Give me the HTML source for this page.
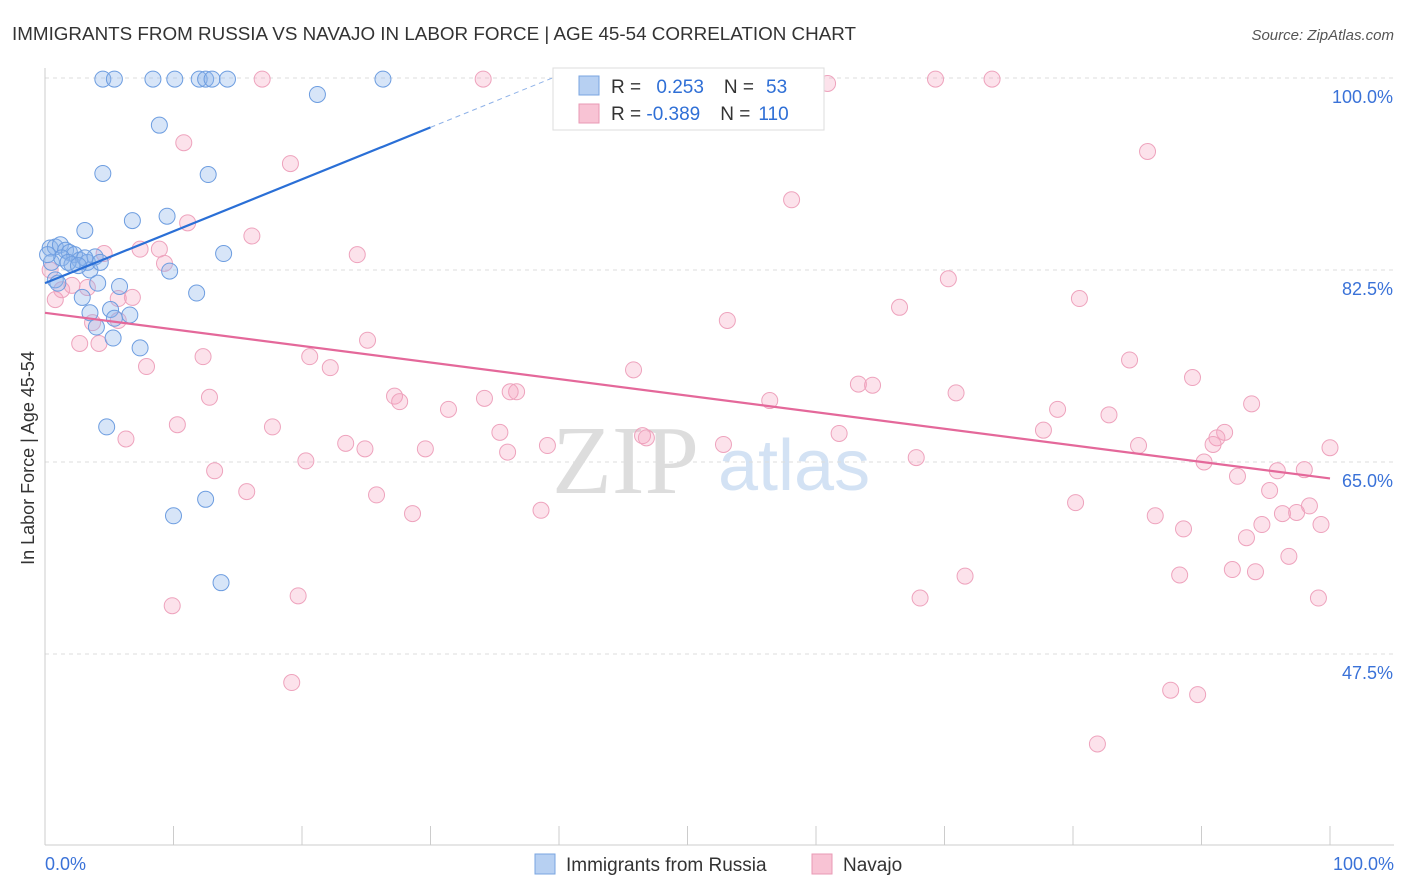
<!DOCTYPE html>
<html><head><meta charset="utf-8"><style>
body{margin:0;background:#fff;font-family:"Liberation Sans",sans-serif;}
svg{display:block}
</style></head><body>
<svg id="chart" width="1406" height="892">
<text x="12" y="40" font-size="18" fill="#333" textLength="844" lengthAdjust="spacingAndGlyphs">IMMIGRANTS FROM RUSSIA VS NAVAJO IN LABOR FORCE | AGE 45-54 CORRELATION CHART</text>
<text x="1394" y="40" font-size="15" fill="#555" text-anchor="end" font-style="italic">Source: ZipAtlas.com</text>
<g>
<text x="552" y="493" font-size="98" fill="#ddd" font-family="Liberation Serif,serif">ZIP</text>
<text x="718" y="490" font-size="72" fill="#d3e2f4">atlas</text>
</g>
<g id="grid"></g>
<g id="axes"></g>
<g id="marks"></g>
<g>
<rect x="553" y="68" width="271" height="62" fill="#fff" stroke="#ddd"/>
<rect x="579" y="76" width="20" height="19" fill="#b7d0f2" stroke="#7aa5e0"/>
<rect x="579" y="104" width="20" height="19" fill="#f8c3d4" stroke="#e99ab4"/>
<text x="611" y="93" font-size="19" fill="#333">R = <tspan fill="#2f6fd6" dx="10">0.253</tspan><tspan dx="20" fill="#333">N =</tspan><tspan dx="12" fill="#2f6fd6">53</tspan></text>
<text x="611" y="120" font-size="19" fill="#333">R = <tspan fill="#2f6fd6" dx="0">-0.389</tspan><tspan dx="20" fill="#333">N =</tspan><tspan dx="8" fill="#2f6fd6">110</tspan></text>
</g>
<g>
<rect x="535" y="854" width="20" height="20" fill="#b7d0f2" stroke="#7aa5e0"/>
<text x="566" y="871" font-size="19" fill="#333">Immigrants from Russia</text>
<rect x="812" y="854" width="20" height="20" fill="#f8c3d4" stroke="#e99ab4"/>
<text x="843" y="871" font-size="19" fill="#333">Navajo</text>
</g>
<text x="34" y="458" font-size="18" fill="#333" text-anchor="middle" transform="rotate(-90 34 458)">In Labor Force | Age 45-54</text>
</svg>
<script>
const yTicks=[100,82.5,65,47.5];
const yTickLabels=["100.0%","82.5%","65.0%","47.5%"];
const xTickLabels=["0.0%","100.0%"];
const russiaX=[4.5,5.4,8.4,10.1,12.0,12.5,13.0,14.2,26.3,21.2,8.9,4.5,12.7,6.8,9.5,3.1,13.9,9.7,11.8,0.4,0.8,1.2,1.6,1.9,2.3,2.7,3.3,3.9,0.5,1.3,2.1,3.5,4.1,5.8,0.8,2.9,3.5,5.1,6.6,5.4,4.0,5.3,7.4,4.8,12.5,10.0,13.7,0.2,1.8,1.0,3.1,4.3,2.6];
const russiaY=[99.9,99.9,99.9,99.9,99.9,99.9,99.9,99.9,99.9,98.5,95.7,91.3,91.2,87.0,87.4,86.1,84.0,82.4,80.4,84.5,84.6,84.8,84.3,84.1,83.9,83.4,83.2,83.7,83.2,83.6,83.0,82.5,81.3,81.0,81.6,80.0,78.6,78.9,78.4,78.1,77.3,76.3,75.4,68.2,61.6,60.1,54.0,83.9,83.2,81.3,83.6,83.2,82.9];
const navajoX=[16.9,34.1,40.5,52.5,60.9,69.3,73.7,10.8,19.1,85.8,58.1,16.1,11.1,8.9,7.4,4.6,24.3,9.3,0.4,0.8,1.3,2.1,3.3,5.7,6.8,70.3,80.5,66.5,53.1,25.1,2.7,4.2,3.7,5.7,12.3,20.6,7.9,22.2,84.4,45.8,89.3,63.3,64.4,70.9,27.2,27.6,36.7,36.2,34.2,12.8,56.4,31.4,78.8,82.8,93.9,10.3,17.7,35.4,23.4,24.9,29.6,36.0,39.1,46.5,46.8,52.8,61.8,77.7,85.1,91.8,91.2,90.9,100,6.3,20.3,67.8,90.2,92.8,95.9,98.0,13.2,15.7,25.8,95.3,80.2,28.6,38.6,86.4,88.6,94.7,93.5,96.3,97.4,98.4,99.3,96.8,92.4,94.2,88.3,71.6,68.1,99.1,19.7,9.9,19.2,87.6,89.7,81.9];
const navajoY=[99.9,99.9,99.9,99.9,99.5,99.9,99.9,94.1,92.2,93.3,88.9,85.6,86.8,84.4,84.4,84.0,83.9,83.1,82.5,79.8,80.7,81.1,80.9,79.9,80.0,81.7,79.9,79.1,77.9,76.1,75.8,75.8,77.7,77.9,74.6,74.6,73.7,73.6,74.3,73.4,72.7,72.1,72.0,71.3,71.0,70.5,71.4,71.4,70.8,70.9,70.6,69.8,69.8,69.3,70.3,68.4,68.2,67.7,66.7,66.2,66.2,65.9,66.5,67.4,67.2,66.6,67.6,67.9,66.5,67.7,67.2,66.6,66.3,67.1,65.1,65.4,65.0,63.7,64.2,64.3,64.2,62.3,62.0,62.4,61.3,60.3,60.6,60.1,58.9,59.3,58.1,60.3,60.4,61.0,59.3,56.4,55.2,55.0,54.7,54.6,52.6,52.6,52.8,51.9,44.9,44.2,43.8,39.3];
const russiaTrend=[81.3,95.5,100.1]; const russiaTrendX=[0,30,39.7];
const navajoTrend=[78.6,63.5]; const navajoTrendX=[0,100];
const NS="http://www.w3.org/2000/svg";
const X0=45,X1=1330,Y100=78,PXPER=192/17.5;
const xs=v=>X0+(X1-X0)*v/100;
const ys=v=>Y100+(100-v)*PXPER;
function mk(tag,attrs,parent){const e=document.createElementNS(NS,tag);for(const k in attrs)e.setAttribute(k,attrs[k]);document.getElementById(parent).appendChild(e);return e;}
yTicks.forEach((t,i)=>{
 const l=mk('line',{x1:45,x2:1394,y1:ys(t),y2:ys(t),stroke:'#ddd','stroke-dasharray':'4,4'},'grid');
 
 
 const tx=mk('text',{x:1393,y:ys(t)+25,'font-size':18,fill:'#3a72d8','text-anchor':'end'},'grid');
 tx.textContent=yTickLabels[i];
 
 
});
const ax=mk('line',{x1:45,x2:45,y1:68,y2:845,stroke:'#ccc'},'axes');


const bx=mk('line',{x1:45,x2:1394,y1:845,y2:845,stroke:'#ccc'},'axes');


for(let i=0;i<=10;i++){
 const t=mk('line',{x1:xs(i*10),x2:xs(i*10),y1:826,y2:845,stroke:'#ccc'},'axes');
 
 
}
[[0,'start',45],[100,'end',1394]].forEach((d,i)=>{
 const t=mk('text',{x:d[2],y:870,'font-size':18,fill:'#3a72d8','text-anchor':d[1]},'axes');
 t.textContent=xTickLabels[i];
 
 
});
navajoX.forEach((v,i)=>{
 const c=mk('circle',{cx:xs(v),cy:ys(navajoY[i]),r:8,fill:'rgba(244,160,190,0.3)',stroke:'#eea3bd','stroke-width':1},'marks');
 
 
});
russiaX.forEach((v,i)=>{
 const c=mk('circle',{cx:xs(v),cy:ys(russiaY[i]),r:8,fill:'rgba(140,180,235,0.35)',stroke:'#6d9de0','stroke-width':1},'marks');
 
 
});
const nl=mk('line',{x1:xs(navajoTrendX[0]),y1:ys(navajoTrend[0]),x2:xs(navajoTrendX[1]),y2:ys(navajoTrend[1]),stroke:'#e4689a','stroke-width':2.2},'marks');


const rl=mk('line',{x1:xs(russiaTrendX[0]),y1:ys(russiaTrend[0]),x2:xs(russiaTrendX[1]),y2:ys(russiaTrend[1]),stroke:'#2a6fd6','stroke-width':2.2},'marks');


const rd=mk('line',{x1:xs(russiaTrendX[1]),y1:ys(russiaTrend[1]),x2:xs(russiaTrendX[2]),y2:ys(russiaTrend[2]),stroke:'#8fb2e8','stroke-width':1,'stroke-dasharray':'5,4'},'marks');


</script>
</body></html>
